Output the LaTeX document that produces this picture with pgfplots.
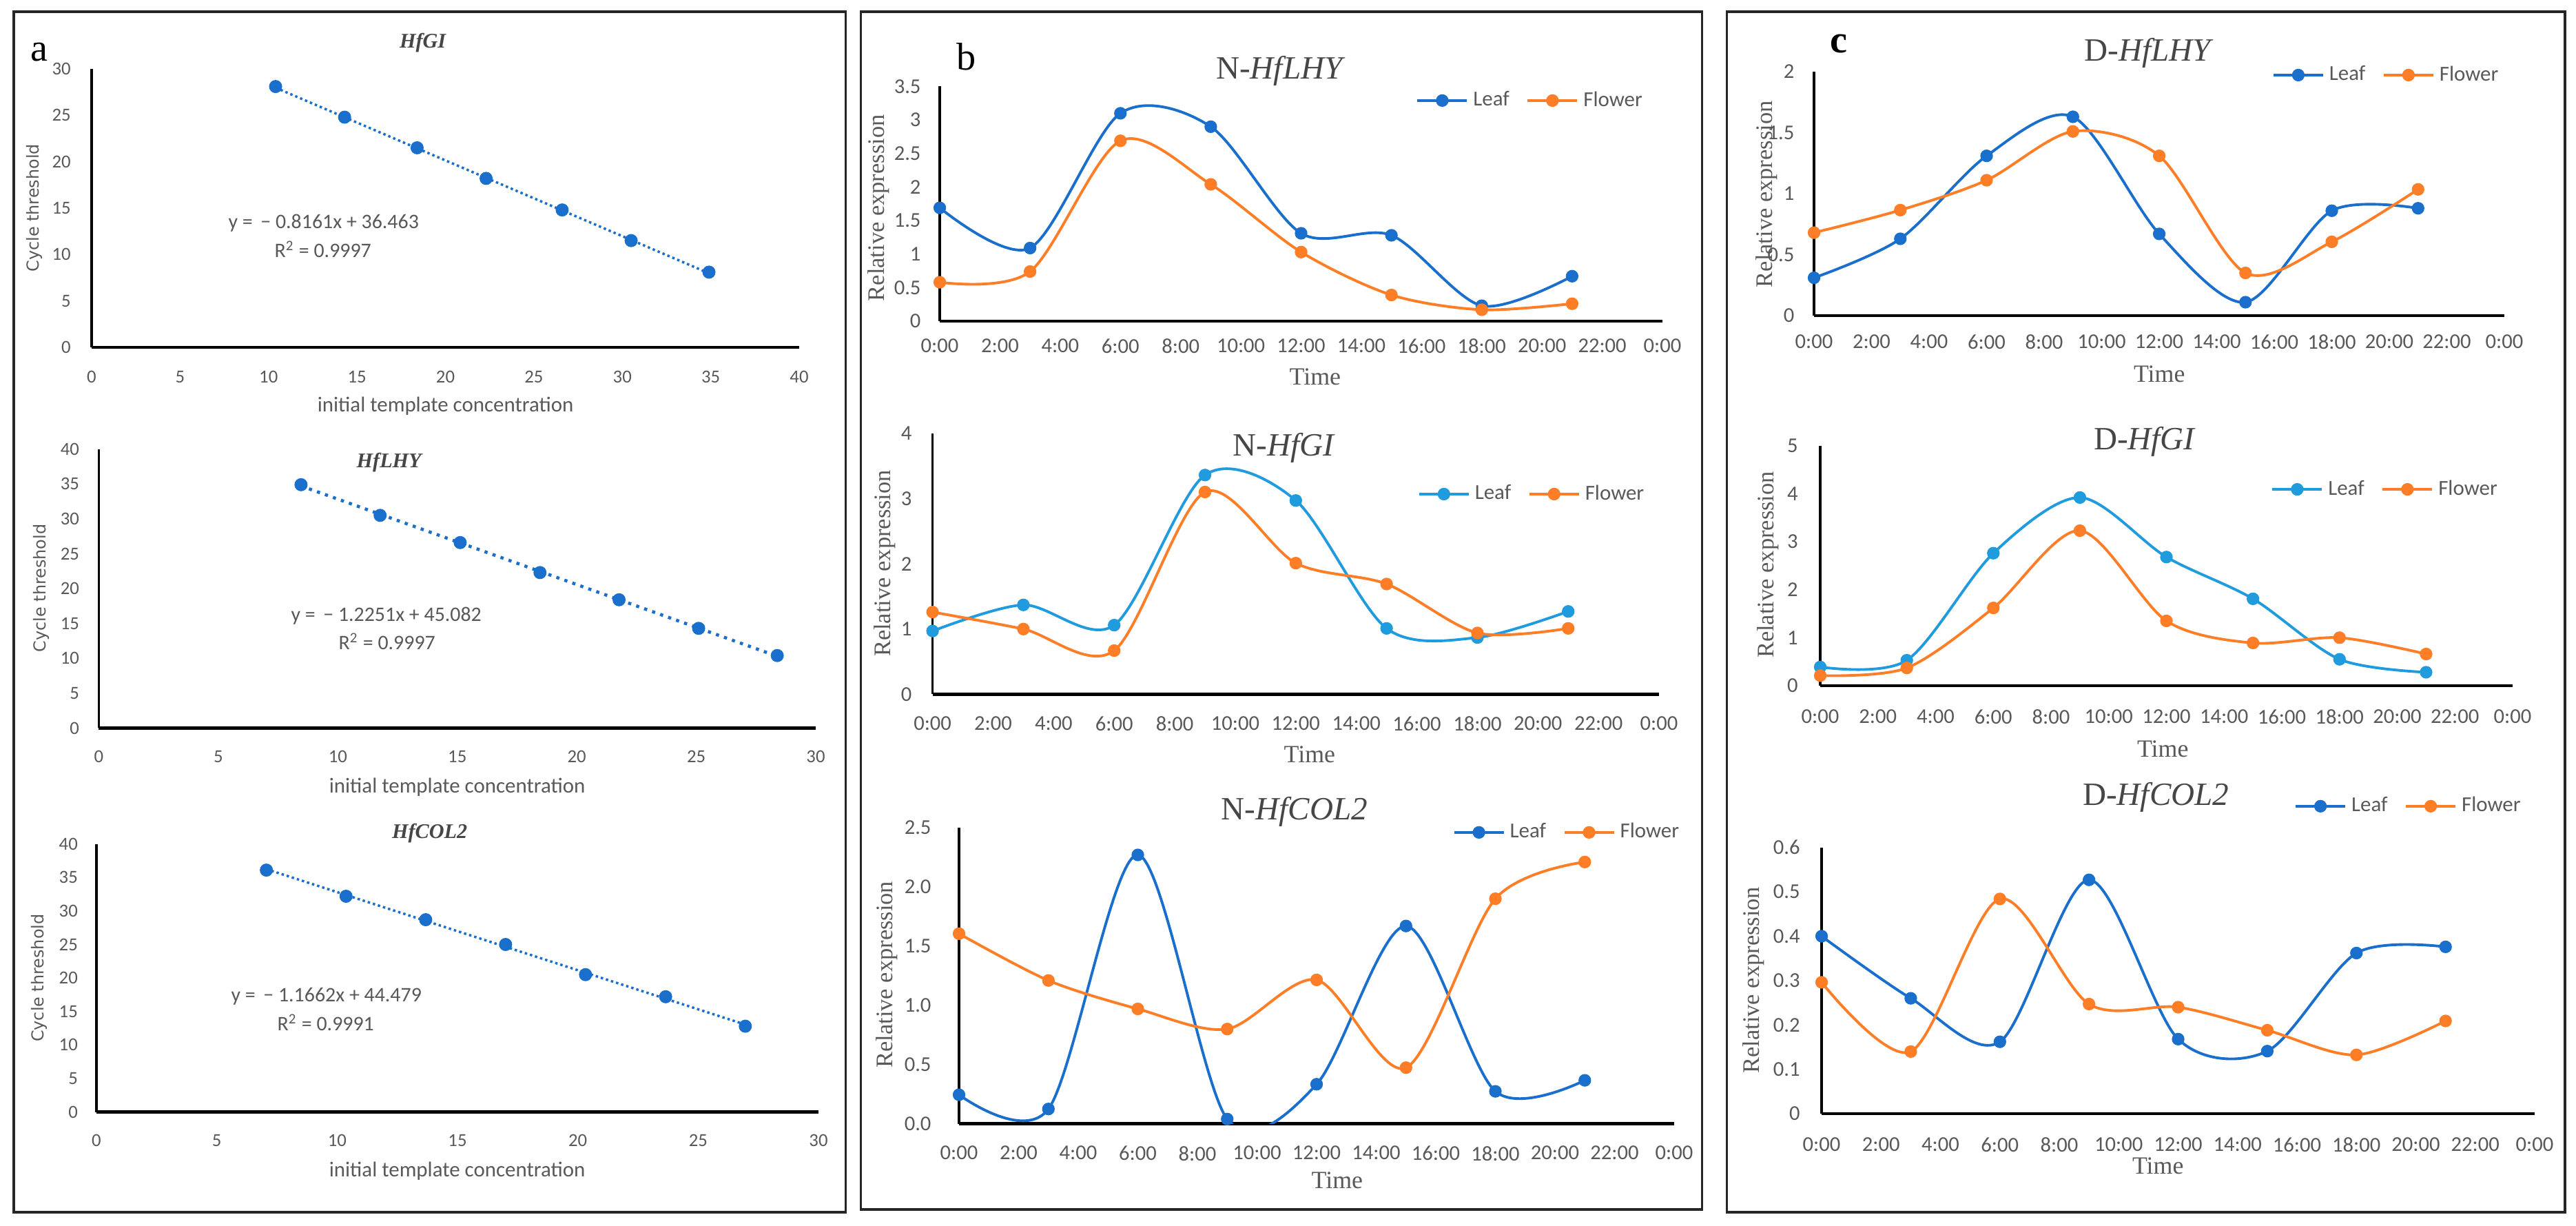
\documentclass[border=0pt]{standalone}
\usepackage{fontspec}
\setmainfont{Liberation Serif}
\newfontfamily\carlito{Carlito}
\newfontfamily\dejavu{DejaVu Sans}
\usepackage{pgfplots}
\pgfplotsset{compat=1.18}
\definecolor{dblue}{RGB}{26,111,204}
\definecolor{lblue}{RGB}{31,155,222}
\definecolor{orng}{RGB}{253,126,38}
\definecolor{tgray}{RGB}{89,89,89}
\definecolor{ttl}{RGB}{70,70,70}
\newcommand\ft[1]{\fontsize{#1}{#1}\selectfont}
\pgfplotsset{
  exc/.style={scale only axis, anchor=south west,
    axis x line=bottom, axis y line=left,
    axis line style={-, black, line width=0.9pt},
    x axis line style={line width=1.3pt},
    major tick length=0pt,
    /pgf/number format/assume math mode=true,
    ticklabel style={text=tgray}, clip=true},
  stdcurve/.style={exc, ticklabel style={font=\carlito\ft{7.6}}, xmin=0, ymin=0},
  timeax/.style={exc, ticklabel style={font=\carlito\ft{8.7}},
    xmin=0, xmax=24, ymin=0,
    xtick={0,2,...,24},
    xticklabels={0:00,2:00,4:00,6:00,8:00,10:00,12:00,14:00,16:00,18:00,20:00,22:00,0:00},
    legend columns=2, legend cell align=left,
    legend image code/.code={\draw[mark repeat=2,mark phase=2,##1] plot coordinates {(0cm,0cm) (0.36cm,0cm) (0.72cm,0cm)};},
    legend style={draw=none, fill=none, anchor=center, inner sep=0pt,
      font=\carlito\ft{8.8}, text=tgray,
      /tikz/every even column/.append style={column sep=5pt}}},
  ser/.style={color=#1, line width=1.1pt, mark=*, mark size=2.4pt,
    mark options={solid, fill=#1, line width=0.4pt}, smooth},
  dots/.style={only marks, mark=*, mark size=2.5pt, color=dblue},
  trend/.style={dblue, line width=1pt, dash pattern=on 1pt off 1.2pt, no marks},
}
\begin{document}
\begin{tikzpicture}
\useasboundingbox (0,0) rectangle (37.39cm,17.78cm);
\fill[white] (0,0) rectangle (37.39cm,17.78cm);

% ---------- a1 HfGI
\begin{axis}[stdcurve, at={(1.33cm,12.74cm)}, width=10.27cm, height=4.04cm,
  xmax=40, ymax=30, xtick={0,5,...,40}, ytick={0,5,...,30},
  xticklabel style={yshift=-6.2pt}, yticklabel style={xshift=-5.1pt}]
\addplot[trend] coordinates {(10.4,27.976) (34.9,7.981)};
\addplot[dots] coordinates {(10.4,28.1) (14.3,24.8) (18.4,21.5) (22.3,18.2) (26.6,14.8) (30.5,11.5) (34.9,8.1)};
\end{axis}

% ---------- a2 HfLHY
\begin{axis}[stdcurve, at={(1.435cm,7.215cm)}, width=10.405cm, height=4.048cm,
  xmax=30, ymax=40, xtick={0,5,...,30}, ytick={0,5,...,40},
  xticklabel style={yshift=-5.8pt}, yticklabel style={xshift=-4.6pt}]
\addplot[trend, line width=1.3pt, dash pattern=on 1.3pt off 2.2pt] coordinates {(8.46,34.72) (28.39,10.30)};
\addplot[dots] coordinates {(8.46,34.9) (11.77,30.5) (15.12,26.6) (18.46,22.3) (21.77,18.4) (25.1,14.3) (28.39,10.4)};
\end{axis}

% ---------- a3 HfCOL2
\begin{axis}[stdcurve, at={(1.40cm,1.645cm)}, width=10.48cm, height=3.888cm,
  xmax=30, ymax=40, xtick={0,5,...,30}, ytick={0,5,...,40},
  xticklabel style={yshift=-5.8pt}, yticklabel style={xshift=-4.2pt}]
\addplot[trend] coordinates {(7.06,36.25) (26.96,13.04)};
\addplot[dots] coordinates {(7.06,36.1) (10.37,32.2) (13.68,28.7) (17.0,25.0) (20.32,20.5) (23.65,17.2) (26.96,12.8)};
\end{axis}

% ---------- b1 N-HfLHY
\begin{axis}[timeax, at={(13.64cm,13.12cm)}, width=10.49cm, height=3.405cm,
  ymax=3.5, ytick={0,0.5,...,3.5},
  xticklabel style={yshift=-3.7pt}, yticklabel style={xshift=-4.3pt},
  legend style={at={(0.819,0.940)}}]
\addplot[ser=dblue] coordinates {(0,1.69) (3,1.09) (6,3.10) (9,2.90) (12,1.31) (15,1.28) (18,0.23) (21,0.67)};
\addplot[ser=orng] coordinates {(0,0.58) (3,0.74) (6,2.69) (9,2.04) (12,1.03) (15,0.39) (18,0.17) (21,0.26)};
\legend{Leaf,Flower}
\end{axis}

% ---------- b2 N-HfGI
\begin{axis}[timeax, at={(13.536cm,7.705cm)}, width=10.544cm, height=3.788cm,
  ymax=4, ytick={0,1,...,4},
  xticklabel style={yshift=-5.7pt}, yticklabel style={xshift=-5.1pt},
  legend style={at={(0.827,0.767)}}]
\addplot[ser=lblue] coordinates {(0,0.97) (3,1.37) (6,1.06) (9,3.36) (12,2.97) (15,1.01) (18,0.87) (21,1.27)};
\addplot[ser=orng] coordinates {(0,1.26) (3,1.00) (6,0.67) (9,3.10) (12,2.01) (15,1.69) (18,0.94) (21,1.01)};
\legend{Leaf,Flower}
\end{axis}

% ---------- b3 N-HfCOL2
\begin{axis}[timeax, at={(13.92cm,1.473cm)}, width=10.38cm, height=4.297cm,
  ymax=2.5, ytick={0,0.5,...,2.5},
  /pgf/number format/fixed, /pgf/number format/fixed zerofill, /pgf/number format/precision=1,
  xticklabel style={yshift=-5.7pt}, yticklabel style={xshift=-8pt},
  legend style={at={(0.852,0.984)}}]
\addplot[ser=dblue] coordinates {(0,0.245) (3,0.125) (6,2.27) (9,0.04) (12,0.334) (15,1.67) (18,0.274) (21,0.367)};
\addplot[ser=orng] coordinates {(0,1.605) (3,1.21) (6,0.97) (9,0.80) (12,1.215) (15,0.474) (18,1.90) (21,2.21)};
\legend{Leaf,Flower}
\end{axis}

% ---------- c1 D-HfLHY
\begin{axis}[timeax, at={(26.33cm,13.20cm)}, width=10.02cm, height=3.54cm,
  ymax=2, ytick={0,0.5,...,2},
  xticklabel style={yshift=-4.3pt}, yticklabel style={xshift=-4.6pt},
  legend style={at={(0.831,0.986)}}]
\addplot[ser=dblue] coordinates {(0,0.31) (3,0.63) (6,1.31) (9,1.63) (12,0.67) (15,0.11) (18,0.86) (21,0.88)};
\addplot[ser=orng] coordinates {(0,0.68) (3,0.865) (6,1.11) (9,1.51) (12,1.31) (15,0.35) (18,0.605) (21,1.035)};
\legend{Leaf,Flower}
\end{axis}

% ---------- c2 D-HfGI
\begin{axis}[timeax, at={(26.42cm,7.83cm)}, width=10.05cm, height=3.483cm,
  ymax=5, ytick={0,1,...,5},
  xticklabel style={yshift=-6.3pt}, yticklabel style={xshift=-5.7pt},
  legend style={at={(0.818,0.818)}}]
\addplot[ser=lblue] coordinates {(0,0.39) (3,0.53) (6,2.76) (9,3.92) (12,2.68) (15,1.81) (18,0.55) (21,0.28)};
\addplot[ser=orng] coordinates {(0,0.21) (3,0.37) (6,1.62) (9,3.23) (12,1.35) (15,0.89) (18,1.00) (21,0.66)};
\legend{Leaf,Flower}
\end{axis}

% ---------- c3 D-HfCOL2
\begin{axis}[timeax, at={(26.44cm,1.62cm)}, width=10.35cm, height=3.863cm,
  ymax=0.6, ytick={0,0.1,...,0.6},
  xticklabel style={yshift=-6.3pt}, yticklabel style={xshift=-5.4pt},
  legend style={at={(0.825,1.155)}}]
\addplot[ser=dblue] coordinates {(0,0.40) (3,0.26) (6,0.162) (9,0.527) (12,0.168) (15,0.141) (18,0.362) (21,0.376)};
\addplot[ser=orng] coordinates {(0,0.296) (3,0.14) (6,0.484) (9,0.247) (12,0.240) (15,0.188) (18,0.1325) (21,0.209)};
\legend{Leaf,Flower}
\end{axis}

% ---------- texts and frames (coordinates in pixels of the reference)
\begin{scope}[x=0.01cm,y=-0.01cm,yshift=17.78cm]
\draw[line width=1pt, black!85] (20,17) rectangle (1228,1760);
\draw[line width=1pt, black!85] (1250,17) rectangle (2472,1756);
\draw[line width=1pt, black!85] (2508,17) rectangle (3725,1760);

\node[font=\ft{16}] at (57,76) {a};
\node[font=\ft{16}] at (1403,82) {b};
\node[font=\ft{16}\bfseries] at (2670,64) {c};

% panel a
\node[anchor=base, font=\ft{8.6}\bfseries\itshape, text=ttl] at (614,70) {HfGI};
\node[anchor=base, font=\ft{8.6}\bfseries\itshape, text=ttl] at (565,679) {HfLHY};
\node[anchor=base, font=\ft{8.6}\bfseries\itshape, text=ttl] at (624,1217) {HfCOL2};
\node[rotate=90, font=\dejavu\ft{6.8}, text=tgray] at (50,302) {Cycle threshold};
\node[rotate=90, font=\dejavu\ft{6.8}, text=tgray] at (60,854) {Cycle threshold};
\node[rotate=90, font=\dejavu\ft{6.8}, text=tgray] at (57,1420) {Cycle threshold};
\node[font=\carlito\ft{8.8}, text=tgray] at (647,590) {initial template concentration};
\node[font=\carlito\ft{8.8}, text=tgray] at (664,1143) {initial template concentration};
\node[font=\carlito\ft{8.8}, text=tgray] at (664,1700) {initial template concentration};
\node[font=\carlito\ft{8.5}, text=tgray] at (470,324) {y =\, − 0.8161x + 36.463};
\node[font=\carlito\ft{8.5}, text=tgray] at (469,362) {R\textsuperscript{2} = 0.9997};
\node[font=\carlito\ft{8.5}, text=tgray] at (561,894) {y =\, − 1.2251x + 45.082};
\node[font=\carlito\ft{8.5}, text=tgray] at (562,931) {R\textsuperscript{2} = 0.9997};
\node[font=\carlito\ft{8.5}, text=tgray] at (474,1447) {y =\, − 1.1662x + 44.479};
\node[font=\carlito\ft{8.5}, text=tgray] at (473,1485) {R\textsuperscript{2} = 0.9991};

% panel b and c titles
\node[anchor=base, font=\ft{13.4}, text=ttl] at (1860,115) {N-\textit{HfLHY}};
\node[anchor=base, font=\ft{13.4}, text=ttl] at (1865,662) {N-\textit{HfGI}};
\node[anchor=base, font=\ft{13.4}, text=ttl] at (1880,1190) {N-\textit{HfCOL2}};
\node[anchor=base, font=\ft{13.4}, text=ttl] at (3121,89) {D-\textit{HfLHY}};
\node[anchor=base, font=\ft{13.4}, text=ttl] at (3115,653) {D-\textit{HfGI}};
\node[anchor=base, font=\ft{13.4}, text=ttl] at (3131,1169) {D-\textit{HfCOL2}};

% x labels
\node[anchor=base, font=\ft{10.2}, text=tgray] at (1910,559) {Time};
\node[anchor=base, font=\ft{10.2}, text=tgray] at (1902,1107) {Time};
\node[anchor=base, font=\ft{10.2}, text=tgray] at (1942,1725) {Time};
\node[anchor=base, font=\ft{10.2}, text=tgray] at (3136,555) {Time};
\node[anchor=base, font=\ft{10.2}, text=tgray] at (3141,1099) {Time};
\node[anchor=base, font=\ft{10.2}, text=tgray] at (3134,1704) {Time};

% y labels
\node[rotate=90, font=\ft{9.8}, text=tgray] at (1276,302) {Relative expression};
\node[rotate=90, font=\ft{9.8}, text=tgray] at (1285,818) {Relative expression};
\node[rotate=90, font=\ft{9.8}, text=tgray] at (1288,1415) {Relative expression};
\node[rotate=90, font=\ft{9.8}, text=tgray] at (2566,282) {Relative expression};
\node[rotate=90, font=\ft{9.8}, text=tgray] at (2568,820) {Relative expression};
\node[rotate=90, font=\ft{9.8}, text=tgray] at (2547,1423) {Relative expression};
\end{scope}
\end{tikzpicture}
\end{document}
